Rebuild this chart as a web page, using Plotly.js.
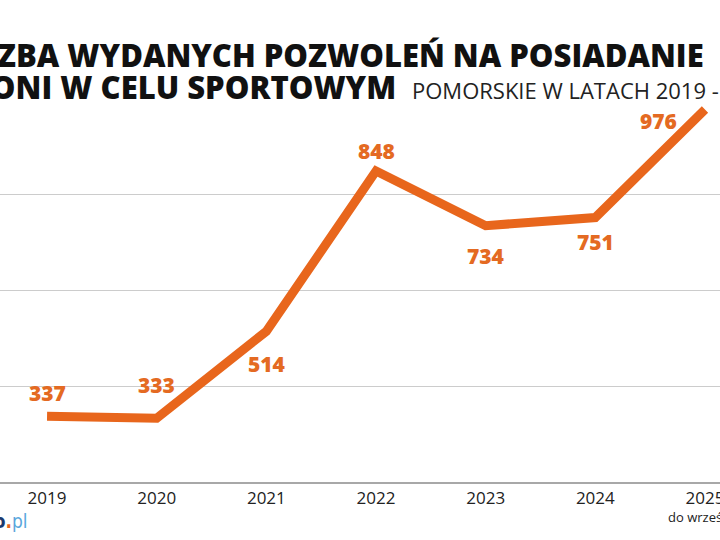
<!DOCTYPE html>
<html>
<head>
<meta charset="utf-8">
<script src="https://cdn.plot.ly/plotly-3.0.1.min.js"></script>
<style>
  html, body { margin: 0; padding: 0; background: #ffffff; }
  #chart { width: 720px; height: 540px; }
</style>
</head>
<body>
<div id="chart"></div>
<script>
// ---- data ----
const years = [2019, 2020, 2021, 2022, 2023, 2024, 2025];
const permits = [337, 333, 514, 848, 734, 751, 976];
const yearLabels = ['2019', '2020', '2021', '2022', '2023', '2024', '2025'];
const gridValues = [400, 600, 800];
const titleLine1 = 'LICZBA WYDANYCH POZWOLEŃ NA POSIADANIE';
const titleLine2 = 'BRONI W CELU SPORTOWYM';
const subtitle = 'POMORSKIE W LATACH 2019 - 2025';
const lastYearNote = 'do września';

// ---- styles (label offsets in px, not data) ----
const orange = '#E8661C';
const labelColor = '#E46A22';
const labelDy = [23, 33, -33, 20, -30, -24, -11];
const labelDx = [0, 0, 0, 0, 0, 0, -46];

const trace = {
  x: years,
  y: permits,
  mode: 'lines',
  line: { color: orange, width: 9 },
  hoverinfo: 'skip',
  cliponaxis: false
};

const valueLabels = years.map((yr, i) => ({
  xref: 'x', yref: 'y',
  x: yr, y: permits[i],
  xshift: labelDx[i], yshift: labelDy[i],
  xanchor: 'center', yanchor: 'middle',
  text: String(permits[i]),
  showarrow: false,
  font: { family: 'Open Sans', size: 21, color: labelColor, weight: 800 }
}));

const layout = {
  width: 720,
  height: 540,
  margin: { l: 0, r: 0, t: 0, b: 58 },
  paper_bgcolor: '#ffffff',
  plot_bgcolor: '#ffffff',
  showlegend: false,
  xaxis: {
    range: [2018.571, 2025.137],
    tickvals: years,
    ticktext: yearLabels,
    tickfont: { family: 'Open Sans', size: 17, color: '#222222' },
    ticklabeloverflow: 'allow',
    showgrid: false,
    zeroline: false,
    showline: true,
    linecolor: '#a8a8a8',
    linewidth: 2,
    ticks: '',
    ticklabelstandoff: 0,
    fixedrange: true
  },
  yaxis: {
    range: [200, 1204.2],
    tickvals: gridValues,
    showticklabels: false,
    showgrid: true,
    gridcolor: '#cccccc',
    gridwidth: 1,
    zeroline: false,
    showline: false,
    ticks: '',
    fixedrange: true
  },
  annotations: [
    {
      xref: 'paper', yref: 'paper',
      x: 706 / 720, y: 1 - 55 / 482,
      xanchor: 'right', yanchor: 'middle',
      text: titleLine1, showarrow: false,
      font: { family: 'Open Sans', size: 31, color: '#111111', weight: 800 }
    },
    {
      xref: 'paper', yref: 'paper',
      x: 398 / 720, y: 1 - 87 / 482,
      xanchor: 'right', yanchor: 'middle',
      text: titleLine2, showarrow: false,
      font: { family: 'Open Sans', size: 31, color: '#111111', weight: 800 }
    },
    {
      xref: 'paper', yref: 'paper',
      x: 410 / 720, y: 1 - 90 / 482,
      xanchor: 'left', yanchor: 'middle',
      text: subtitle, showarrow: false,
      font: { family: 'Open Sans', size: 22, color: '#222222' }
    },
    {
      xref: 'x', yref: 'paper',
      x: years[years.length - 1], y: -35 / 482,
      xanchor: 'center', yanchor: 'middle',
      text: lastYearNote, showarrow: false,
      font: { family: 'Open Sans', size: 13, color: '#222222' }
    },
    {
      xref: 'paper', yref: 'paper',
      x: 30 / 720, y: -39 / 482,
      xanchor: 'right', yanchor: 'middle',
      text: "<b><span style='color:#1c3a6e'>trojmiasto</span><span style='color:#E8661C'>.</span></b><span style='color:#5aa6dc'>pl</span>",
      showarrow: false,
      font: { family: 'DejaVu Sans Condensed, Liberation Sans, sans-serif', size: 19, color: '#1c3a6e' }
    }
  ].concat(valueLabels)
};

Plotly.newPlot('chart', [trace], layout, { displayModeBar: false, staticPlot: true });
</script>
</body>
</html>
